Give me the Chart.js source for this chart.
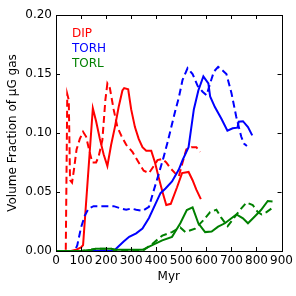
<!DOCTYPE html>
<html>
<head>
<meta charset="utf-8">
<script src="https://cdn.jsdelivr.net/npm/chart.js@4.4.1/dist/chart.umd.min.js"></script>
<style>
  html, body { margin: 0; padding: 0; background: #fff; }
  #wrap { width: 296px; height: 296px; }
</style>
</head>
<body>
<div id="wrap"><canvas id="myChart" width="296" height="296"></canvas></div>
<script>
// values (Myr, volume fraction)
var dipSolidT = [0, 20, 40, 60, 80, 100, 108, 147, 160, 175, 190, 205, 220, 235, 250, 265, 272, 288, 300, 315, 330, 345, 360, 380, 395, 410, 425, 440, 458, 483, 503, 529, 545, 560, 578];
var dipSolidV = [0, 0, 0, 0, 0.001, 0.003, 0.005, 0.121, 0.11, 0.095, 0.082, 0.072, 0.09, 0.105, 0.122, 0.136, 0.138, 0.137, 0.12, 0.105, 0.095, 0.088, 0.085, 0.085, 0.075, 0.062, 0.05, 0.039, 0.04, 0.054, 0.066, 0.067, 0.06, 0.052, 0.044];

var dipDashT = [0, 20, 39, 45, 51, 56, 64, 71, 82, 95, 108, 120, 133, 145, 160, 170, 185, 197, 205, 215, 230, 245, 260, 280, 305, 330, 350, 371, 390, 405, 424, 440, 457, 475, 490, 505, 520, 540, 560, 575];
var dipDashV = [0, 0, 0, 0.133, 0.128, 0.06, 0.058, 0.068, 0.086, 0.095, 0.101, 0.097, 0.085, 0.075, 0.075, 0.08, 0.094, 0.128, 0.142, 0.138, 0.12, 0.105, 0.098, 0.09, 0.084, 0.075, 0.068, 0.066, 0.072, 0.077, 0.078, 0.075, 0.07, 0.066, 0.063, 0.075, 0.086, 0.088, 0.088, 0.084];

var torhSolidT = [0, 50, 100, 150, 200, 230, 250, 270, 292, 320, 345, 371, 397, 417, 437, 463, 490, 505, 529, 550, 568, 588, 608, 615, 634, 660, 684, 705, 724, 729, 746, 766, 783];
var torhSolidV = [0, 0, 0, 0, 0, 0, 0.004, 0.008, 0.012, 0.015, 0.019, 0.028, 0.04, 0.049, 0.053, 0.059, 0.069, 0.077, 0.088, 0.12, 0.136, 0.148, 0.142, 0.131, 0.122, 0.112, 0.102, 0.104, 0.1045, 0.1096, 0.11, 0.105, 0.098];

var torhDashT = [0, 40, 75, 85, 100, 115, 130, 150, 200, 230, 260, 280, 300, 320, 345, 371, 391, 411, 430, 445, 460, 475, 490, 505, 525, 545, 565, 585, 601, 615, 630, 647, 665, 680, 700, 719, 739, 750, 762];
var torhDashV = [0, 0, 0, 0.005, 0.02, 0.03, 0.036, 0.038, 0.038, 0.038, 0.036, 0.035, 0.036, 0.035, 0.034, 0.0375, 0.052, 0.066, 0.08, 0.092, 0.105, 0.118, 0.13, 0.145, 0.155, 0.15, 0.14, 0.135, 0.132, 0.142, 0.152, 0.156, 0.153, 0.15, 0.134, 0.114, 0.097, 0.091, 0.089];

var torlSolidT = [0, 100, 140, 160, 220, 240, 292, 345, 384, 424, 463, 496, 522, 545, 568, 595, 621, 647, 674, 700, 720, 746, 766, 792, 818, 845, 864];
var torlSolidV = [0, 0, 0.001, 0.002, 0.002, 0.001, 0.001, 0.001, 0.005, 0.009, 0.012, 0.0235, 0.0347, 0.037, 0.0235, 0.016, 0.0165, 0.0206, 0.0235, 0.0277, 0.031, 0.0277, 0.0235, 0.029, 0.0347, 0.0424, 0.042];

var torlDashT = [0, 100, 140, 160, 220, 240, 345, 384, 424, 463, 496, 516, 555, 588, 615, 640, 660, 685, 710, 735, 760, 785, 805, 820, 840, 860];
var torlDashV = [0, 0, 0.001, 0.002, 0.002, 0.0, 0.0, 0.006, 0.013, 0.016, 0.02, 0.016, 0.019, 0.026, 0.033, 0.035, 0.028, 0.021, 0.028, 0.035, 0.041, 0.039, 0.033, 0.031, 0.033, 0.036];

var xTicks = [0, 100, 200, 300, 400, 500, 600, 700, 800, 900];
var yTicks = [0, 0.05, 0.1, 0.15, 0.2];
var legendNames = ["DIP", "TORH", "TORL"];
var legendColors = ["#ff0000", "#0000ff", "#008000"];

function pts(t, v) {
  var out = [];
  for (var i = 0; i < t.length; i++) out.push({x: t[i], y: v[i]});
  return out;
}

function line(t, v, color, dashed, order) {
  return {
    data: pts(t, v),
    borderColor: color,
    borderWidth: 2,
    borderDash: dashed ? [7, 4] : [],
    pointRadius: 0,
    tension: 0,
    fill: false,
    order: order
  };
}

var font = {family: "'DejaVu Sans', sans-serif", size: 12};

// inward ticks on all four sides and the frame, like matplotlib
var frameTicks = {
  id: 'frameTicks',
  afterDraw: function (chart) {
    var ctx = chart.ctx, a = chart.chartArea;
    var xs = chart.scales.x, ys = chart.scales.y;
    ctx.save();
    ctx.strokeStyle = '#000';
    ctx.lineWidth = 1;
    ctx.beginPath();
    xTicks.forEach(function (t) {
      var px = Math.round(xs.getPixelForValue(t)) + 0.5;
      ctx.moveTo(px, a.bottom); ctx.lineTo(px, a.bottom - 4);
      ctx.moveTo(px, a.top); ctx.lineTo(px, a.top + 4);
    });
    yTicks.forEach(function (t) {
      var py = Math.round(ys.getPixelForValue(t)) + 0.5;
      ctx.moveTo(a.left, py); ctx.lineTo(a.left + 4, py);
      ctx.moveTo(a.right, py); ctx.lineTo(a.right - 4, py);
    });
    ctx.stroke();
    ctx.strokeRect(Math.round(a.left) + 0.5, Math.round(a.top) + 0.5, Math.round(a.right - a.left), Math.round(a.bottom - a.top));
    // text legend
    ctx.font = "12px 'DejaVu Sans', sans-serif";
    ctx.textBaseline = 'middle';
    ctx.textAlign = 'left';
    legendNames.forEach(function (n, i) {
      ctx.fillStyle = legendColors[i];
      ctx.fillText(n, 72, 34 + i * 15);
    });
    ctx.restore();
  }
};

var ctx = document.getElementById("myChart").getContext("2d");
var myChart = new Chart(ctx, {
  type: 'line',
  data: {
    datasets: [
      line(dipSolidT, dipSolidV, legendColors[0], false, 5),
      line(dipDashT, dipDashV, legendColors[0], true, 4),
      line(torhSolidT, torhSolidV, legendColors[1], false, 3),
      line(torhDashT, torhDashV, legendColors[1], true, 2),
      line(torlSolidT, torlSolidV, legendColors[2], false, 1),
      line(torlDashT, torlDashV, legendColors[2], true, 0)
    ]
  },
  options: {
    responsive: false,
    animation: false,
    layout: {padding: {top: 15, right: 12, left: 0, bottom: 0}},
    plugins: {legend: {display: false}, tooltip: {enabled: false}},
    scales: {
      x: {
        type: 'linear', min: 0, max: 900,
        afterFit: function (s) { s.height = 45; },
        afterBuildTicks: function (s) { s.ticks = xTicks.map(function (v) { return {value: v}; }); },
        grid: {display: false, drawTicks: false, tickLength: 0},
        border: {display: false},
        ticks: {font: font, color: '#000', padding: 3, autoSkip: false, maxRotation: 0},
        title: {display: true, text: 'Myr', font: font, color: '#000', padding: {top: 0, bottom: 12}}
      },
      y: {
        type: 'linear', min: 0, max: 0.2,
        afterFit: function (s) { s.width = 56; },
        afterBuildTicks: function (s) { s.ticks = yTicks.map(function (v) { return {value: v}; }); },
        grid: {display: false, drawTicks: false, tickLength: 0},
        border: {display: false},
        ticks: {font: font, color: '#000', padding: 4, callback: function (v) { return v.toFixed(2); }},
        title: {display: true, text: 'Volume Fraction of μG gas', font: font, color: '#000', padding: {top: 6, bottom: 0}}
      }
    }
  },
  plugins: [frameTicks]
});
</script>
</body>
</html>
